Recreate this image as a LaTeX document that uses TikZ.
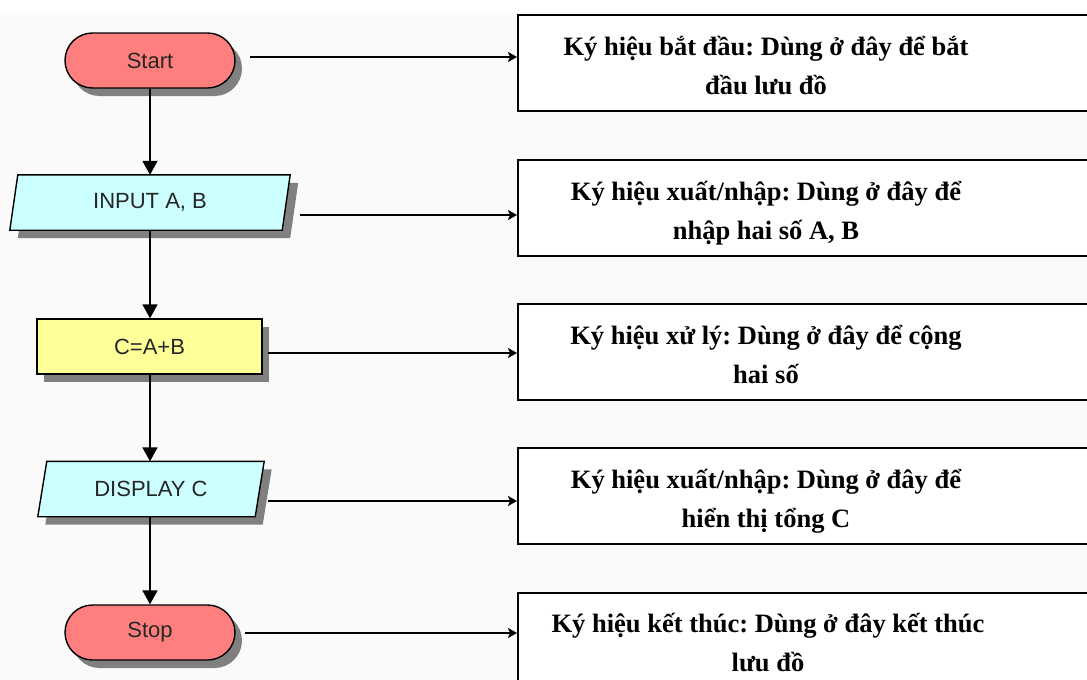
\documentclass[tikz,border=0pt]{standalone}
\usepackage{fontspec}
\setmainfont{Liberation Serif}
\newfontfamily\flowfont{Liberation Sans}
\usetikzlibrary{arrows.meta,shadows,backgrounds}
\definecolor{termred}{HTML}{FF7F7F}
\definecolor{iocyan}{HTML}{CCFFFF}
\definecolor{procyellow}{HTML}{FFFF99}
\definecolor{shadowgray}{HTML}{808080}
\definecolor{bgcol}{HTML}{FAFAFA}
\newcommand\lstrut{\rule[-19.25pt]{0pt}{38.5pt}}
\frenchspacing
\begin{document}
\begin{tikzpicture}[x=1pt,y=-1pt,
  flowtext/.style={font=\flowfont\fontsize{22}{26}\selectfont, text=black!85},
  shadowed/.style={drop shadow={shadow xshift=7pt, shadow yshift=-8pt, fill=shadowgray, opacity=1}},
  term/.style={flowtext, draw=black, line width=1.4pt, fill=termred, minimum width=170pt, minimum height=55pt, rounded corners=27.5pt, inner sep=0pt, shadowed},
  procbox/.style={flowtext, draw=black, line width=1.4pt, fill=procyellow, minimum width=225pt, minimum height=55pt, inner sep=0pt, shadowed},
  iobox/.style={flowtext, minimum height=55pt, inner sep=0pt},
  descbox/.style={draw=black, line width=2pt, fill=white, minimum width=582pt, minimum height=96pt, inner sep=0pt},
  desctext/.style={font=\fontsize{26.5}{38.5}\selectfont\bfseries, align=center, inner sep=0pt},
  vconn/.style={line width=1.8pt, -{Triangle[width=15pt,length=14pt]}},
  hconn/.style={line width=2pt, -{Stealth[width=10pt,length=9pt,inset=2pt]}}
]
\useasboundingbox (0,0) rectangle (1087,680);
\clip (0,0) rectangle (1087,680);

% flowchart symbols
\node[term] (start) at (150,60.5) {Start};
\node[iobox, minimum width=272pt] (inp) at (150,202.5) {INPUT A, B};
\node[procbox] (calc) at (149.5,346.5) {C=A+B};
\node[iobox, minimum width=217pt] (disp) at (151,489) {DISPLAY C};
\node[term] (stop) at (150,632.5) {Stop};

\begin{pgfonlayer}{background}
  \fill[bgcol] (0,13) rectangle (1087,680);
  % INPUT parallelogram
  \fill[shadowgray] ([xshift=12pt,yshift=-8pt]inp.north west) -- ([xshift=12pt,yshift=-8pt]inp.north east)
     -- ([xshift=4pt,yshift=-8pt]inp.south east) -- ([xshift=4pt,yshift=-8pt]inp.south west) -- cycle;
  \draw[black, line width=1.4pt, fill=iocyan] ([xshift=4pt]inp.north west) -- ([xshift=4pt]inp.north east)
     -- ([xshift=-4pt]inp.south east) -- ([xshift=-4pt]inp.south west) -- cycle;
  % DISPLAY parallelogram
  \fill[shadowgray] ([xshift=12pt,yshift=-8pt]disp.north west) -- ([xshift=12pt,yshift=-8pt]disp.north east)
     -- ([xshift=3pt,yshift=-8pt]disp.south east) -- ([xshift=3pt,yshift=-8pt]disp.south west) -- cycle;
  \draw[black, line width=1.4pt, fill=iocyan] ([xshift=4.5pt]disp.north west) -- ([xshift=4.5pt]disp.north east)
     -- ([xshift=-4.5pt]disp.south east) -- ([xshift=-4.5pt]disp.south west) -- cycle;
\end{pgfonlayer}

% vertical flow
\draw[vconn] (start.south) -- (start.south |- inp.north);
\draw[vconn] (start.south |- inp.south) -- (start.south |- calc.north);
\draw[vconn] (start.south |- calc.south) -- (start.south |- disp.north);
\draw[vconn] (start.south |- disp.south) -- (stop.north);

% description boxes
\node[descbox] (b1) at (809,63) {};
\node[descbox] (b2) at (809,208) {};
\node[descbox] (b3) at (809,352) {};
\node[descbox] (b4) at (809,495.5) {};
\node[descbox] (b5) at (809,640.5) {};

\node[desctext] (t1) at (766,75) {\lstrut Ký hiệu bắt đầu: Dùng ở đây để bắt\\\lstrut đầu lưu đồ};
\node[desctext] (t2) at (766,220) {\lstrut Ký hiệu xuất/nhập: Dùng ở đây để\\\lstrut nhập hai số A, B};
\node[desctext] (t3) at (766,364) {\lstrut Ký hiệu xử lý: Dùng ở đây để cộng\\\lstrut hai số};
\node[desctext] (t4) at (766,508) {\lstrut Ký hiệu xuất/nhập: Dùng ở đây để\\\lstrut hiển thị tổng C};
\node[desctext] (t5) at (768,652) {\lstrut Ký hiệu kết thúc: Dùng ở đây kết thúc\\\lstrut lưu đồ};

% horizontal connectors
\coordinate (h1) at (250,57);
\coordinate (h2) at (300,215);
\coordinate (h3) at (268,353);
\coordinate (h4) at (268,501);
\coordinate (h5) at (245,633);
\draw[hconn] (h1) -- (h1 -| b1.west);
\draw[hconn] (h2) -- (h2 -| b2.west);
\draw[hconn] (h3) -- (h3 -| b3.west);
\draw[hconn] (h4) -- (h4 -| b4.west);
\draw[hconn] (h5) -- (h5 -| b5.west);
\end{tikzpicture}
\end{document}
